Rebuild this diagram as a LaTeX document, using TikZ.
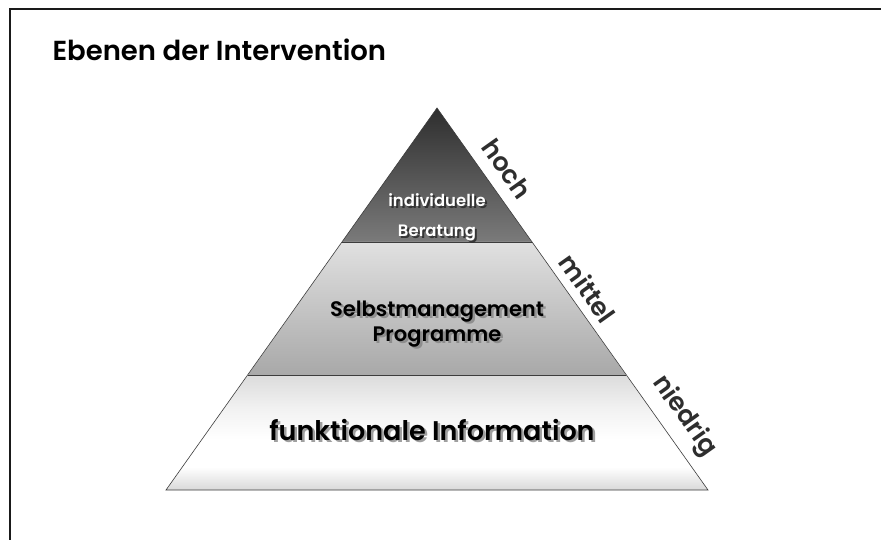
\documentclass[tikz,border=0pt]{standalone}
\usepackage{fontspec}
\setmainfont{Poppins}[BoldFont={Poppins SemiBold}]
\usepackage{tikz}

\definecolor{rahmen}{HTML}{1A1A1A}
\definecolor{kante}{HTML}{3C3C3C}
\definecolor{seite}{HTML}{2E2E2E}

% band shading for the base: grey at the rim, white just below the text
\pgfdeclareverticalshading{basis}{100bp}{color(0bp)=(black!15); color(25bp)=(black!15);
  color(35bp)=(white); color(47bp)=(white); color(60bp)=(black!5); color(75bp)=(black!14); color(100bp)=(black!14)}

\tikzset{
  stufe/.style={draw=kante, line width=0.6pt},
  seitentext/.style={text=seite, font=\bfseries\fontsize{25.5}{25.5}\selectfont, rotate=-54.6},
  innen/.style={font=\bfseries\fontsize{21}{25}\selectfont, align=center},
  schatten/.style={text=black!50, opacity=0.75}
}

\begin{document}
\begin{tikzpicture}[x=1pt, y=-1pt]
        \useasboundingbox (0,0) rectangle (881,540);
        \fill[white] (0,0) rectangle (881,540);
        \draw[rahmen, line width=1.6pt] (900,9) -- (10,9) -- (10,560);

        \node[anchor=west, font=\bfseries\fontsize{27.5}{27.5}\selectfont] (titel) at (49,50) {Ebenen der Intervention};

        % pyramid corners
        \coordinate (spitze) at (437,108);
        \coordinate (A) at (342,242);
        \coordinate (B) at (532,242);
        \coordinate (C) at (248,375);
        \coordinate (D) at (626,375);
        \coordinate (E) at (166,490);
        \coordinate (F) at (708,490);

        \shade[top color=black!82, bottom color=black!52] (spitze) -- (B) -- (A) -- cycle;
        \shade[top color=black!12, bottom color=black!34] (A) -- (B) -- (D) -- (C) -- cycle;
        \shade[shading=basis] (C) -- (D) -- (F) -- (E) -- cycle;
        \draw[stufe] (spitze) -- (F) -- (E) -- cycle;
        \draw[stufe] (A) -- (B);
        \draw[stufe] (C) -- (D);

        % level texts with a soft drop shadow
        \node[innen, text=black!85, opacity=0.8, font=\bfseries\fontsize{16.5}{30}\selectfont] at (439,219) {individuelle\\Beratung};
        \node[innen, white, font=\bfseries\fontsize{16.5}{30}\selectfont] (stufe1) at (437,217) {individuelle\\Beratung};
        \node[innen, schatten] at (439.5,326.5) {Selbstmanagement\\Programme};
        \node[innen] (stufe2) at (437,324) {Selbstmanagement\\Programme};
        \node[innen, schatten, font=\bfseries\fontsize{27}{27}\selectfont] at (434.5,432.5) {funktionale Information};
        \node[innen, font=\bfseries\fontsize{27}{27}\selectfont] (stufe3) at (432,430) {funktionale Information};

        \node[seitentext] (hoch) at (507,169) {hoch};
        \node[seitentext] (mittel) at (588,288) {mittel};
        \node[seitentext] (niedrig) at (684,416) {niedrig};
    \end{tikzpicture}
\end{document}
